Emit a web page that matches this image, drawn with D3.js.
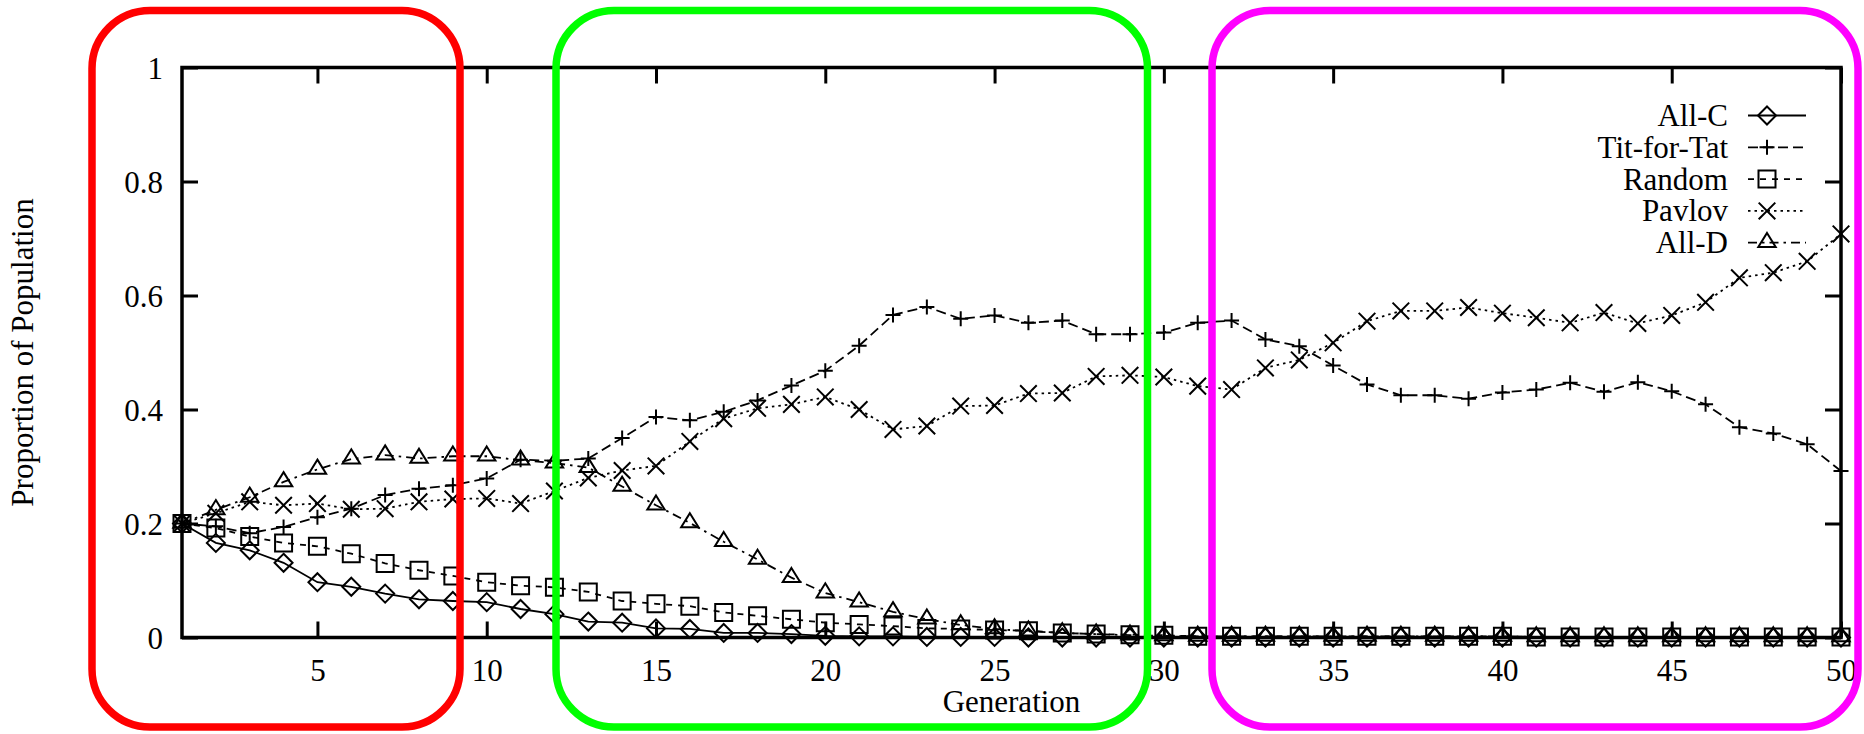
<!DOCTYPE html>
<html>
<head>
<meta charset="utf-8">
<script src="https://cdn.jsdelivr.net/npm/d3@7"></script>
<style>
html, body { margin: 0; padding: 0; background: #fff; }
svg { display: block; }
</style>
</head>
<body>
<svg id="chart" width="1864" height="734"></svg>
<script>
// ---------------- DATA ----------------
const generations = [1,2,3,4,5,6,7,8,9,10,11,12,13,14,15,16,17,18,19,20,21,22,23,24,25,
                     26,27,28,29,30,31,32,33,34,35,36,37,38,39,40,41,42,43,44,45,46,47,48,49,50];

const allC = [0.200,0.166,0.153,0.131,0.097,0.089,0.077,0.067,0.064,0.062,
              0.050,0.041,0.028,0.026,0.016,0.015,0.008,0.008,0.006,0.003,
              0.002,0.002,0.001,0.001,0.001,0.000,0.000,0.000,0.000,0.000,
              0.000,0.000,0.000,0.000,0.000,0.000,0.000,0.000,0.000,0.000,
              0.000,0.000,0.000,0.000,0.000,0.000,0.000,0.000,0.000,0.000];

const titForTat = [0.200,0.195,0.183,0.194,0.211,0.226,0.250,0.261,0.267,0.279,
                   0.312,0.310,0.314,0.350,0.387,0.381,0.396,0.416,0.442,0.468,
                   0.512,0.566,0.580,0.559,0.565,0.552,0.556,0.532,0.532,0.535,
                   0.552,0.556,0.523,0.511,0.477,0.444,0.425,0.425,0.419,0.430,
                   0.435,0.447,0.431,0.448,0.432,0.409,0.369,0.358,0.339,0.292];

const random = [0.200,0.192,0.177,0.166,0.160,0.147,0.130,0.118,0.108,0.097,
                0.091,0.088,0.080,0.064,0.059,0.055,0.044,0.038,0.032,0.026,
                0.023,0.020,0.016,0.015,0.013,0.012,0.008,0.006,0.005,0.004,
                0.002,0.002,0.002,0.002,0.002,0.002,0.002,0.002,0.002,0.002,
                0.001,0.001,0.001,0.001,0.001,0.001,0.001,0.001,0.001,0.001];

const pavlov = [0.200,0.218,0.238,0.232,0.235,0.225,0.226,0.238,0.243,0.244,
                0.235,0.257,0.280,0.293,0.301,0.344,0.384,0.402,0.409,0.422,
                0.400,0.365,0.371,0.406,0.407,0.428,0.429,0.458,0.460,0.457,
                0.441,0.435,0.473,0.487,0.517,0.555,0.573,0.573,0.579,0.569,
                0.561,0.552,0.570,0.551,0.565,0.588,0.631,0.640,0.660,0.708];

const allD = [0.200,0.224,0.246,0.273,0.295,0.313,0.320,0.314,0.318,0.318,
              0.311,0.306,0.298,0.265,0.232,0.201,0.168,0.137,0.105,0.078,
              0.062,0.045,0.032,0.022,0.015,0.011,0.008,0.006,0.004,0.003,
              0.002,0.002,0.002,0.002,0.002,0.002,0.002,0.002,0.002,0.002,
              0.001,0.001,0.001,0.001,0.001,0.001,0.001,0.001,0.001,0.001];

const seriesNames = ["All-C", "Tit-for-Tat", "Random", "Pavlov", "All-D"];
const seriesValues = [allC, titForTat, random, pavlov, allD];

const xTicks = [5,10,15,20,25,30,35,40,45,50];
const yTicks = [0, 0.2, 0.4, 0.6, 0.8, 1];
const yTickLabels = ["0", "0.2", "0.4", "0.6", "0.8", "1"];

const xTitle = "Generation";
const yTitle = "Proportion of Population";

// ---------------- STYLES ----------------
const FONT = "Liberation Serif";
const styles = [
  { marker: "diamond",  dash: null },
  { marker: "plus",     dash: "10,5" },
  { marker: "square",   dash: "6,6" },
  { marker: "cross",    dash: "2.5,4" },
  { marker: "triangle", dash: "9,5,2.5,5" }
];

const markerPath = {
  diamond:  () => { const h = 9;   return `M0,${-h}L${h},0L0,${h}L${-h},0Z`; },
  plus:     () => { const h = 7.5; return `M${-h},0H${h}M0,${-h}V${h}`; },
  square:   () => { const h = 8.5; return `M${-h},${-h}H${h}V${h}H${-h}Z`; },
  cross:    () => { const h = 8.3; return `M${-h},${-h}L${h},${h}M${-h},${h}L${h},${-h}`; },
  triangle: () => { const h = 8.7; return `M0,${-1.12*h}L${h},${0.5*h}L${-h},${0.5*h}Z`; }
};

// ---------------- CHART ----------------
const svg = d3.select("#chart").attr("font-family", FONT);
const x = d3.scaleLinear().domain([1, 50]).range([182, 1841]);
const y = d3.scaleLinear().domain([0, 1]).range([637.5, 67.5]);

const fontSize = 31;

// axes
const gB = svg.append("g").attr("transform", `translate(0,${y(0)})`)
  .call(d3.axisBottom(x).tickValues(xTicks).tickSizeInner(-16).tickSizeOuter(0).tickFormat(d3.format("d")));
const gT = svg.append("g").attr("transform", `translate(0,${y(1)})`)
  .call(d3.axisTop(x).tickValues(xTicks).tickSizeInner(-16).tickSizeOuter(0).tickFormat(() => ""));
const gL = svg.append("g").attr("transform", `translate(${x(1)},0)`)
  .call(d3.axisLeft(y).tickValues(yTicks).tickSizeInner(-16).tickSizeOuter(0).tickFormat((d, i) => yTickLabels[i]));
const gR = svg.append("g").attr("transform", `translate(${x(50)},0)`)
  .call(d3.axisRight(y).tickValues(yTicks).tickSizeInner(-16).tickSizeOuter(0).tickFormat(() => ""));

[gB, gT, gL, gR].forEach(g => {
  g.attr("font-family", FONT).attr("font-size", fontSize);
  g.select(".domain").remove();
  g.selectAll(".tick line").attr("stroke", "#000").attr("stroke-width", 3);
  g.selectAll(".tick text").attr("font-family", FONT).attr("font-size", fontSize).attr("fill", "#000");
});
gB.selectAll(".tick text").attr("y", 43.5).attr("dy", null);
gL.selectAll(".tick text").attr("x", -19).attr("dy", "0.34em");

// frame
svg.append("rect")
  .attr("x", x(1)).attr("y", y(1))
  .attr("width", x(50) - x(1)).attr("height", y(0) - y(1))
  .attr("fill", "none").attr("stroke", "#000").attr("stroke-width", 3.5);

// titles
svg.append("text").attr("x", (x(1) + x(50)) / 2).attr("y", 712)
  .attr("font-family", FONT).attr("text-anchor", "middle").attr("font-size", fontSize).text(xTitle);
svg.append("text").attr("transform", `translate(33,${(y(0) + y(1)) / 2}) rotate(-90)`)
  .attr("font-family", FONT).attr("text-anchor", "middle").attr("font-size", fontSize).text(yTitle);

// series
const line = d3.line().x((d, i) => x(generations[i])).y(d => y(d));
const plot = svg.append("g");
seriesValues.forEach((vals, s) => {
  const st = styles[s];
  plot.append("path").datum(vals)
    .attr("d", line)
    .attr("fill", "none").attr("stroke", "#000").attr("stroke-width", 1.8)
    .attr("stroke-dasharray", st.dash);
});
seriesValues.forEach((vals, s) => {
  const st = styles[s];
  plot.append("g").selectAll("path").data(vals).join("path")
    .attr("transform", (d, i) => `translate(${x(generations[i])},${y(d)})`)
    .attr("d", markerPath[st.marker]())
    .attr("fill", "none").attr("stroke", "#000").attr("stroke-width", 2);
});

// legend
const legend = svg.append("g");
seriesNames.forEach((name, i) => {
  const cy = 115.5 + i * 31.8;
  const st = styles[i];
  legend.append("text").attr("x", 1728).attr("y", cy).attr("dy", "0.34em")
    .attr("font-family", FONT).attr("text-anchor", "end").attr("font-size", fontSize).text(name);
  legend.append("line").attr("x1", 1748).attr("x2", 1806).attr("y1", cy).attr("y2", cy)
    .attr("stroke", "#000").attr("stroke-width", 1.8).attr("stroke-dasharray", st.dash);
  legend.append("path").attr("transform", `translate(1767,${cy})`)
    .attr("d", markerPath[st.marker]())
    .attr("fill", "none").attr("stroke", "#000").attr("stroke-width", 2);
});

// annotation boxes
const boxes = [
  { x0: 92,   x1: 460,    color: "#ff0000" },
  { x0: 556,  x1: 1147.5, color: "#00ff00" },
  { x0: 1212, x1: 1858,   color: "#ff00ff" }
];
svg.append("g").selectAll("rect").data(boxes).join("rect")
  .attr("x", d => d.x0).attr("y", 10.5)
  .attr("width", d => d.x1 - d.x0).attr("height", 716.5)
  .attr("rx", 58).attr("ry", 58)
  .attr("fill", "none").attr("stroke", d => d.color).attr("stroke-width", 7.5);
</script>
</body>
</html>
